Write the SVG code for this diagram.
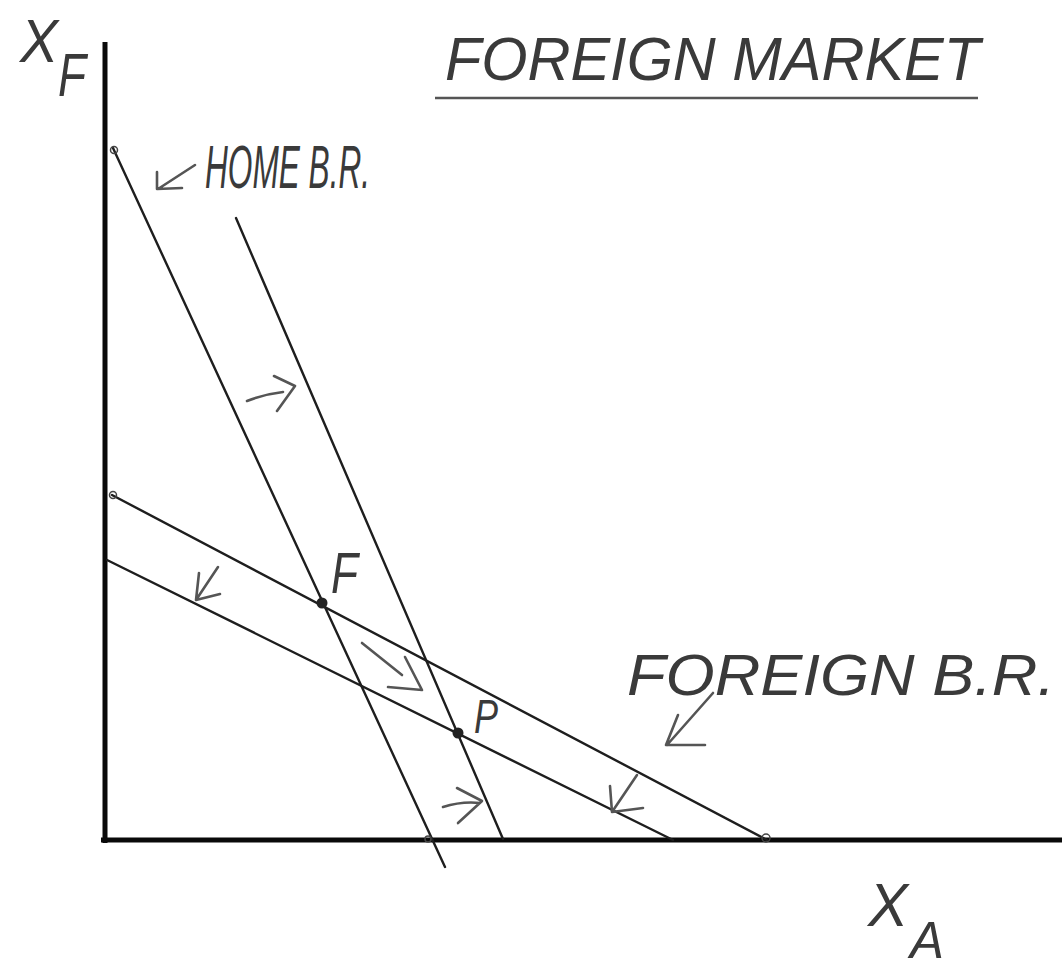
<svg xmlns="http://www.w3.org/2000/svg" width="1062" height="969" viewBox="0 0 1062 969">
<style>
.axis{stroke:#0a0a0a;stroke-width:5;fill:none}
.br{stroke:#1e1e1e;stroke-width:2.4;fill:none;stroke-linecap:round}
.hand{stroke:#555;stroke-width:2.6;fill:none;stroke-linecap:round;stroke-linejoin:round}
.txt{font-family:"Liberation Sans",Arial,sans-serif;fill:#3a3a3a;font-style:italic}
.dot{fill:#222}
.end{fill:none;stroke:#444;stroke-width:1.5}
</style>
<rect width="1062" height="969" fill="#fff"/>
<g id="axes">
<line class="axis" x1="105" y1="42" x2="105" y2="843"/>
<line class="axis" x1="101" y1="840" x2="1062" y2="840"/>
</g>
<g id="connectors">
<line id="home-br" class="br" x1="113" y1="148" x2="445" y2="867"/>
<line id="home-br-shifted" class="br" x1="236" y1="218" x2="503" y2="839"/>
<line id="foreign-br" class="br" x1="112" y1="495" x2="767" y2="840"/>
<line id="foreign-br-shifted" class="br" x1="107" y1="560" x2="673" y2="840"/>
<circle class="end" cx="114" cy="150" r="3.5"/>
<circle class="end" cx="113" cy="495" r="3.5"/>
<circle class="end" cx="766" cy="838" r="4"/>
<circle class="end" cx="428" cy="839" r="3"/>
</g>
<g id="arrows">
<path class="hand" d="M195,165 L158,189 M157,172 L157,189 L182,188"/>
<path class="hand" d="M247,401 Q265,394 283,392 M274,376 L295,386 L277,411"/>
<path class="hand" d="M218,567 L196,600 M199,573 L196,600 L220,594"/>
<path class="hand" d="M362,643 L402,675 M405,657 L422,690 L388,687"/>
<path class="hand" d="M443,807 Q462,801 480,803 M457,788 L482,801 L458,823"/>
<path class="hand" d="M637,775 L612,812 M610,786 L612,812 L643,808"/>
<path class="hand" d="M713,693 L667,745 M678,715 L666,745 L705,745"/>
</g>
<g id="node-F">
<circle class="dot" cx="322" cy="603" r="5.5"/>
<text class="txt" x="331" y="593" font-size="58" textLength="27" lengthAdjust="spacingAndGlyphs">F</text>
</g>
<g id="node-P">
<circle class="dot" cx="458" cy="733" r="5.5"/>
<text class="txt" x="474" y="733" font-size="48" textLength="24" lengthAdjust="spacingAndGlyphs">P</text>
</g>
<g id="labels">
<text class="txt" x="20" y="62" font-size="62" textLength="38" lengthAdjust="spacingAndGlyphs">X</text>
<text class="txt" x="58" y="96" font-size="62" textLength="28" lengthAdjust="spacingAndGlyphs">F</text>
<text class="txt" x="445" y="80" font-size="62" textLength="535" lengthAdjust="spacingAndGlyphs">FOREIGN MARKET</text>
<line x1="435" y1="98" x2="978" y2="98" stroke="#555" stroke-width="2.5"/>
<text class="txt" x="205" y="188" font-size="62" textLength="165" lengthAdjust="spacingAndGlyphs">HOME B.R.</text>
<text class="txt" x="627" y="695" font-size="58" textLength="428" lengthAdjust="spacingAndGlyphs">FOREIGN B.R.</text>
<text class="txt" x="868" y="926" font-size="62" textLength="40" lengthAdjust="spacingAndGlyphs">X</text>
<text class="txt" x="910" y="958" font-size="52" textLength="34" lengthAdjust="spacingAndGlyphs">A</text>
</g>
</svg>
